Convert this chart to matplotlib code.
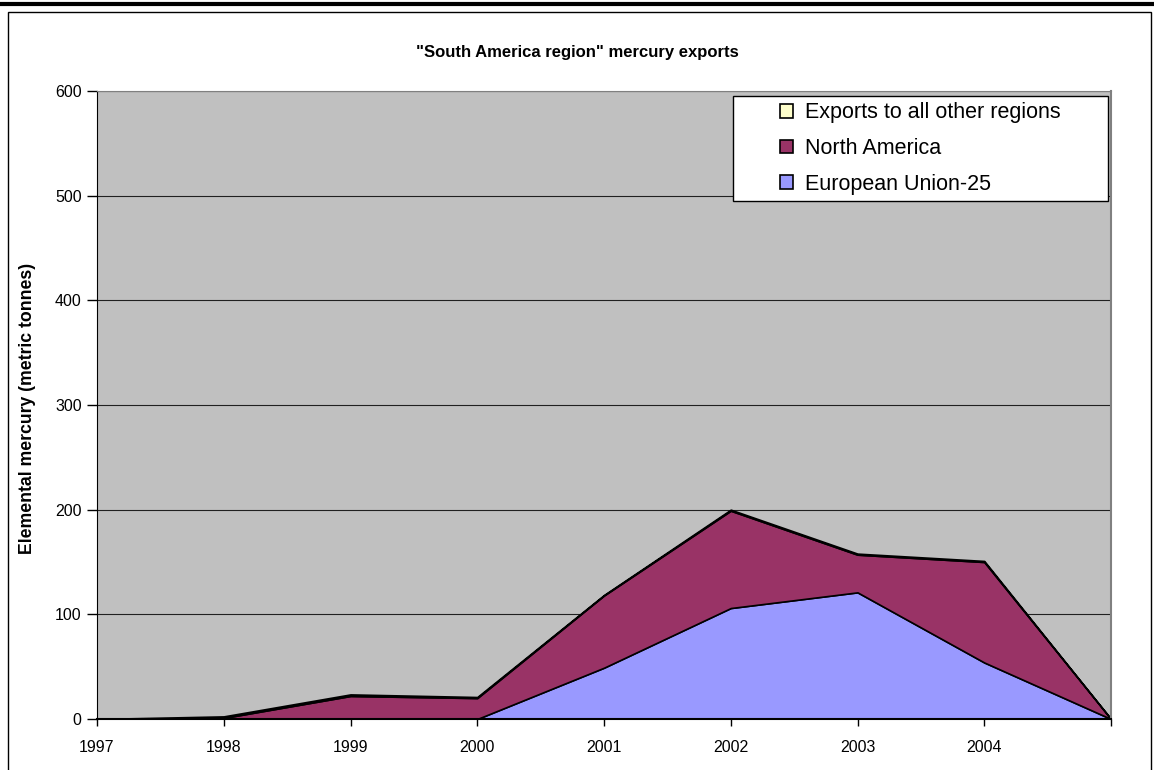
import matplotlib
matplotlib.use("Agg")
import matplotlib.pyplot as plt
from matplotlib.patches import Rectangle
from matplotlib.lines import Line2D

plt.rcParams['font.family'] = ['Liberation Sans', 'DejaVu Sans']

years = [1997, 1998, 1999, 2000, 2001, 2002, 2003, 2004, 2005]
year_labels = ['1997', '1998', '1999', '2000', '2001', '2002', '2003', '2004', '']
eu25 = [0, 0, 0, 0, 49, 106, 121, 54, 0]
north_america = [0, 1, 22, 20, 69, 93, 36, 96, 0]
other_regions = [0, 1.5, 1.5, 1, 0.5, 1, 1, 1, 0]

series_names = ['European Union-25', 'North America', 'Exports to all other regions']
series_colors = ['#9999FF', '#993366', '#FFFFCC']

W, H = 1154, 770
fig = plt.figure(figsize=(W / 100, H / 100), dpi=100)
ax = fig.add_axes([97 / W, 1 - 719 / H, (1111 - 97) / W, (719 - 91) / H])

ax.set_facecolor('#C0C0C0')
polys = ax.stackplot(years, eu25, north_america, other_regions,
                     colors=series_colors, edgecolor='black', linewidth=1.2,
                     labels=series_names)

ax.set_xlim(1997, 2005)
ax.set_ylim(0, 600)
ax.set_yticks(range(0, 601, 100))
ax.set_xticks(years)
ax.set_xticklabels(year_labels)
ax.tick_params(axis='both', labelsize=11.5, direction='out', width=1, colors='black')
ax.tick_params(axis='y', length=7, pad=4)
ax.tick_params(axis='x', length=5, pad=10)
ax.yaxis.grid(True, color='#202020', linewidth=0.8)
ax.set_axisbelow(True)
ax.spines['top'].set_color('#808080')
ax.spines['right'].set_color('#808080')
ax.spines['right'].set_linewidth(1.5)
ax.spines['left'].set_color('black')
ax.spines['bottom'].set_color('black')
ax.spines['bottom'].set_linewidth(1.5)

ax.set_ylabel('Elemental mercury (metric tonnes)', fontsize=12.7, fontweight='bold')
ax.yaxis.set_label_coords(36 / W, 1 - 408 / H, transform=fig.transFigure)
fig.text(0.5, 1 - 52 / H, '"South America region" mercury exports', ha='center', va='center',
         fontsize=12, fontweight='bold')

# legend box, with the entries centred inside it
lx0, lx1, ly0, ly1 = 733, 1108, 96, 201
fig.add_artist(Rectangle((lx0 / W, 1 - ly1 / H), (lx1 - lx0) / W, (ly1 - ly0) / H,
                         transform=fig.transFigure, facecolor='white', edgecolor='black',
                         linewidth=1, zorder=5))
handles = [polys[2], polys[1], polys[0]]
labels = [series_names[2], series_names[1], series_names[0]]
leg = fig.legend(handles, labels, loc='center',
                 bbox_to_anchor=((lx0 + lx1) / 2 / W, 1 - (ly0 + ly1) / 2 / H),
                 fontsize=15.5, frameon=False, handlelength=0.6, handleheight=0.6,
                 handletextpad=0.55, labelspacing=0.68, borderpad=0, borderaxespad=0)
leg.set_zorder(6)

# page rule and chart-area border
fig.add_artist(Line2D([0, 1], [1 - 4 / H, 1 - 4 / H], transform=fig.transFigure,
                      color='black', linewidth=3))
fig.add_artist(Rectangle((8 / W, -0.05), (1151 - 8) / W, 1.05 - 12 / H,
                         transform=fig.transFigure, fill=False, edgecolor='black', linewidth=1))

fig.savefig('out.png', dpi=100)
